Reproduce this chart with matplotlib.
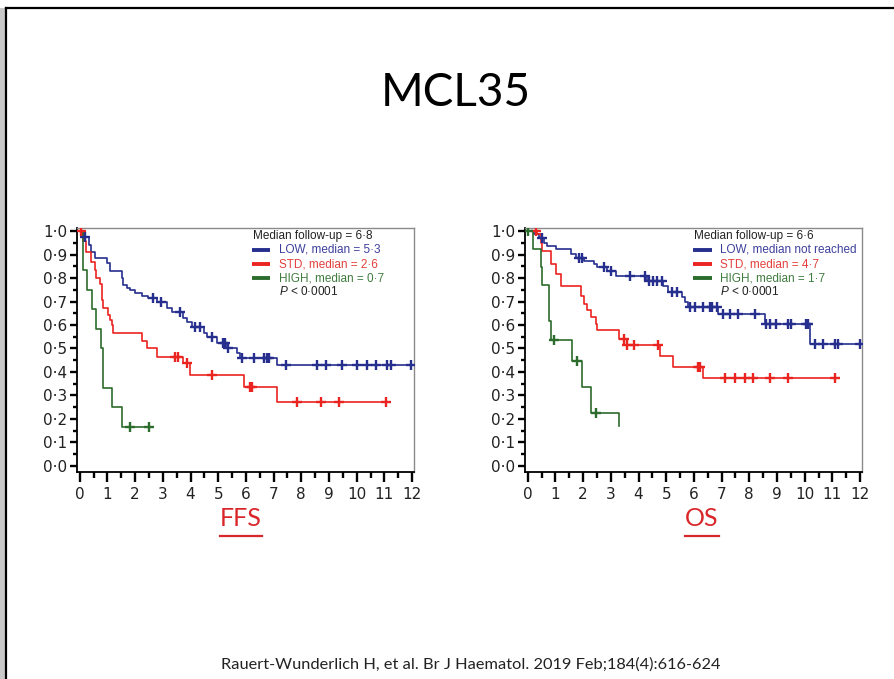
import numpy as np
import matplotlib
matplotlib.use('Agg')
import matplotlib.pyplot as plt
from matplotlib.lines import Line2D
from matplotlib.patches import Rectangle

plt.rcParams['mathtext.fontset'] = 'custom'
plt.rcParams['mathtext.it'] = 'Liberation Sans:italic'
plt.rcParams['mathtext.rm'] = 'Liberation Sans'

# ---- data (time in years, survival fraction) ----
ffs_low_t = [0, 0.12, 0.33, 0.42, 0.54, 0.97, 1.09, 1.51, 1.57, 1.69, 1.81, 2.0, 2.23, 2.47,
             2.80, 3.14, 3.32, 3.74, 3.86, 4.05, 4.47, 4.59, 4.95, 5.31, 5.68, 5.80, 7.13, 12.0]
ffs_low_s = [1.0, 0.976, 0.94, 0.91, 0.885, 0.864, 0.83, 0.80, 0.77, 0.757, 0.747, 0.736, 0.723, 0.713,
             0.70, 0.671, 0.657, 0.628, 0.614, 0.593, 0.565, 0.55, 0.522, 0.50, 0.479, 0.458, 0.43, 0.43]
ffs_low_c = [0.2, 2.63, 2.93, 3.62, 4.17, 4.35, 4.77, 5.19, 5.25, 5.37, 5.86, 6.28, 6.64, 6.76, 6.82,
             7.43, 8.57, 8.88, 9.48, 10.02, 10.39, 10.69, 11.11, 11.23, 11.96]

ffs_std_t = [0, 0.12, 0.24, 0.42, 0.55, 0.60, 0.72, 0.79, 0.82, 0.85, 1.03, 1.09, 1.15, 1.21,
             2.23, 2.41, 2.78, 3.74, 3.99, 5.92, 7.13, 11.05]
ffs_std_s = [1.0, 0.957, 0.912, 0.87, 0.835, 0.80, 0.776, 0.748, 0.705, 0.671, 0.642, 0.62, 0.60, 0.565,
             0.533, 0.50, 0.465, 0.438, 0.387, 0.338, 0.271, 0.271]
ffs_std_c = [0.05, 3.44, 3.56, 3.86, 4.77, 6.16, 6.22, 7.85, 8.70, 9.36, 11.05]

ffs_high_t = [0, 0.12, 0.27, 0.45, 0.60, 0.75, 0.83, 1.15, 1.51, 2.51]
ffs_high_s = [1.0, 0.833, 0.75, 0.667, 0.583, 0.50, 0.333, 0.25, 0.167, 0.167]
ffs_high_c = [1.81, 2.51]

os_low_t = [0, 0.23, 0.41, 0.59, 0.71, 1.01, 1.55, 1.73, 2.03, 2.39, 2.51, 2.87, 3.17, 4.30, 4.90,
            5.08, 5.56, 5.68, 5.80, 6.88, 8.56, 10.18, 12.0]
os_low_s = [1.0, 0.986, 0.972, 0.951, 0.937, 0.922, 0.901, 0.887, 0.873, 0.859, 0.845, 0.831, 0.81,
            0.789, 0.768, 0.739, 0.718, 0.697, 0.676, 0.648, 0.606, 0.521, 0.521]
os_low_c = [0.53, 1.85, 1.97, 2.75, 2.99, 3.70, 4.24, 4.36, 4.54, 4.66, 4.84, 5.20, 5.38, 5.86, 6.04,
            6.34, 6.58, 6.64, 6.82, 7.06, 7.30, 7.60, 8.20, 8.62, 8.74, 8.98, 9.40, 9.52, 10.06, 10.12,
            10.36, 10.66, 11.08, 11.20, 11.98]

os_std_t = [0, 0.35, 0.47, 0.53, 0.83, 1.01, 1.19, 1.91, 2.03, 2.15, 2.27, 2.45, 2.51, 3.29, 3.59,
            4.78, 5.26, 6.34, 11.08]
os_std_s = [1.0, 0.986, 0.951, 0.915, 0.859, 0.817, 0.768, 0.725, 0.690, 0.662, 0.634, 0.606, 0.577,
            0.542, 0.514, 0.469, 0.423, 0.373, 0.373]
os_std_c = [0.29, 3.47, 3.59, 3.83, 4.72, 6.16, 6.22, 7.12, 7.48, 7.84, 8.14, 8.74, 9.40, 11.08]

os_high_t = [0, 0.20, 0.47, 0.53, 0.77, 0.83, 1.61, 1.97, 2.27, 3.29]
os_high_s = [1.0, 0.923, 0.846, 0.769, 0.615, 0.538, 0.448, 0.336, 0.224, 0.168]
os_high_c = [0.02, 0.95, 1.79, 2.48]

y_ticks = [0.0, 0.1, 0.2, 0.3, 0.4, 0.5, 0.6, 0.7, 0.8, 0.9, 1.0]
y_labels = ['0·0', '0·1', '0·2', '0·3', '0·4', '0·5', '0·6', '0·7', '0·8', '0·9', '1·0']
x_ticks = list(range(13))

ffs_legend = ['Median follow-up = 6·8', 'LOW, median = 5·3', 'STD, median = 2·6',
              'HIGH, median = 0·7', '$P$ < 0·0001']
os_legend = ['Median follow-up = 6·6', 'LOW, median not reached', 'STD, median = 4·7',
             'HIGH, median = 1·7', '$P$ < 0·0001']

line_cols = ['#262f8e', '#ea2420', '#2c6c2c']
text_cols = ['#3d3f9c', '#e2403c', '#3f7c3f']

W, H = 894, 679
fig = plt.figure(figsize=(W / 100, H / 100), dpi=100)


def km(ax, t, s, c, col):
    ax.plot(t, s, drawstyle='steps-post', color=col, lw=1.2, zorder=3)
    t = np.asarray(t)
    s = np.asarray(s)
    cy = s[np.searchsorted(t, c, side='right') - 1]
    ax.plot(c, cy, ls='none', marker='+', ms=7, mew=1.7, color=col, zorder=4)


def panel(left_px, curves, legend, leg_x):
    ax = fig.add_axes([left_px / W, 1 - 472 / H, 337 / W, 244 / H])
    for (t, s, c), col in zip(curves, line_cols):
        km(ax, t, s, c, col)
    ax.set_xlim(-0.1, 12.07)
    ax.set_ylim(-0.026, 1.013)
    ax.set_yticks(y_ticks)
    ax.set_yticklabels(y_labels)
    ax.set_yticks(np.arange(0.05, 1.0, 0.1), minor=True)
    ax.set_xticks(x_ticks)
    ax.set_xticks(np.arange(0.5, 12, 1), minor=True)
    for lab in ax.get_xticklabels() + ax.get_yticklabels():
        lab.set_fontfamily('DejaVu Sans')
    ax.tick_params(axis='both', which='both', direction='out', width=1.7, color='black',
                   labelsize=11, labelcolor='#222222')
    ax.tick_params(axis='y', which='major', length=5, pad=2)
    ax.tick_params(axis='y', which='minor', length=3)
    ax.tick_params(axis='x', which='major', length=7, pad=4)
    ax.tick_params(axis='x', which='minor', length=4)
    for side in ['left', 'bottom']:
        ax.spines[side].set_color('black')
        ax.spines[side].set_linewidth(1.3)
    for side in ['top', 'right']:
        ax.spines[side].set_color('#8a8a8a')
        ax.spines[side].set_linewidth(1.0)

    rows = [0.967, 0.910, 0.852, 0.795, 0.738]
    lx0, lx1, tx = leg_x
    ax.text(lx0, rows[0], legend[0], transform=ax.transAxes, fontsize=8.5,
            family='Liberation Sans', color='#222222', va='center')
    for i in range(3):
        ax.plot([lx0 - 0.003, lx1], [rows[i + 1]] * 2, transform=ax.transAxes,
                color=line_cols[i], lw=2.8, solid_capstyle='butt')
        ax.text(tx, rows[i + 1], legend[i + 1], transform=ax.transAxes, fontsize=8.5,
                family='Liberation Sans', color=text_cols[i], va='center')
    ax.text(tx, rows[4], legend[4], transform=ax.transAxes, fontsize=8.5,
            family='Liberation Sans', color='#222222', va='center')
    return ax


panel(77, [(ffs_low_t, ffs_low_s, ffs_low_c), (ffs_std_t, ffs_std_s, ffs_std_c),
           (ffs_high_t, ffs_high_s, ffs_high_c)], ffs_legend, (0.521, 0.574, 0.598))
panel(525, [(os_low_t, os_low_s, os_low_c), (os_std_t, os_std_s, os_std_c),
            (os_high_t, os_high_s, os_high_c)], os_legend, (0.501, 0.555, 0.579))

# slide frame with a soft shadow on the left
fig.add_artist(Rectangle((0, 0), 5 / W, 1 - 8 / H, transform=fig.transFigure,
                         color='#c9c9c9', lw=0))
fig.add_artist(Line2D([6 / W, 6 / W], [0, 1 - 8 / H], transform=fig.transFigure,
                      color='black', lw=1.6))
fig.add_artist(Line2D([6 / W, 1], [1 - 8 / H, 1 - 8 / H], transform=fig.transFigure,
                      color='black', lw=1.6))

fig.text(456 / W, 1 - 93 / H, 'MCL35', ha='center', va='center', fontsize=33,
         family='Lato', color='black')

sub_texts = []
for x, label in [(241, 'FFS'), (702, 'OS')]:
    sub_texts.append(fig.text(x / W, 1 - 519 / H, label, ha='center', va='center',
                              fontsize=18, family='Lato', color='#d9262a'))

fig.text(471 / W, 1 - 665 / H,
         'Rauert-Wunderlich H, et al. Br J Haematol. 2019 Feb;184(4):616-624',
         ha='center', va='center', fontsize=11.8, family='Lato', color='#222222')

# underline the FFS / OS captions
fig.canvas.draw()
for t in sub_texts:
    bb = t.get_window_extent()
    fig.add_artist(Line2D([bb.x0 / W, bb.x1 / W], [1 - 536 / H] * 2,
                          transform=fig.transFigure, color='#d9262a', lw=1.6))

fig.savefig('out.png', dpi=100)
